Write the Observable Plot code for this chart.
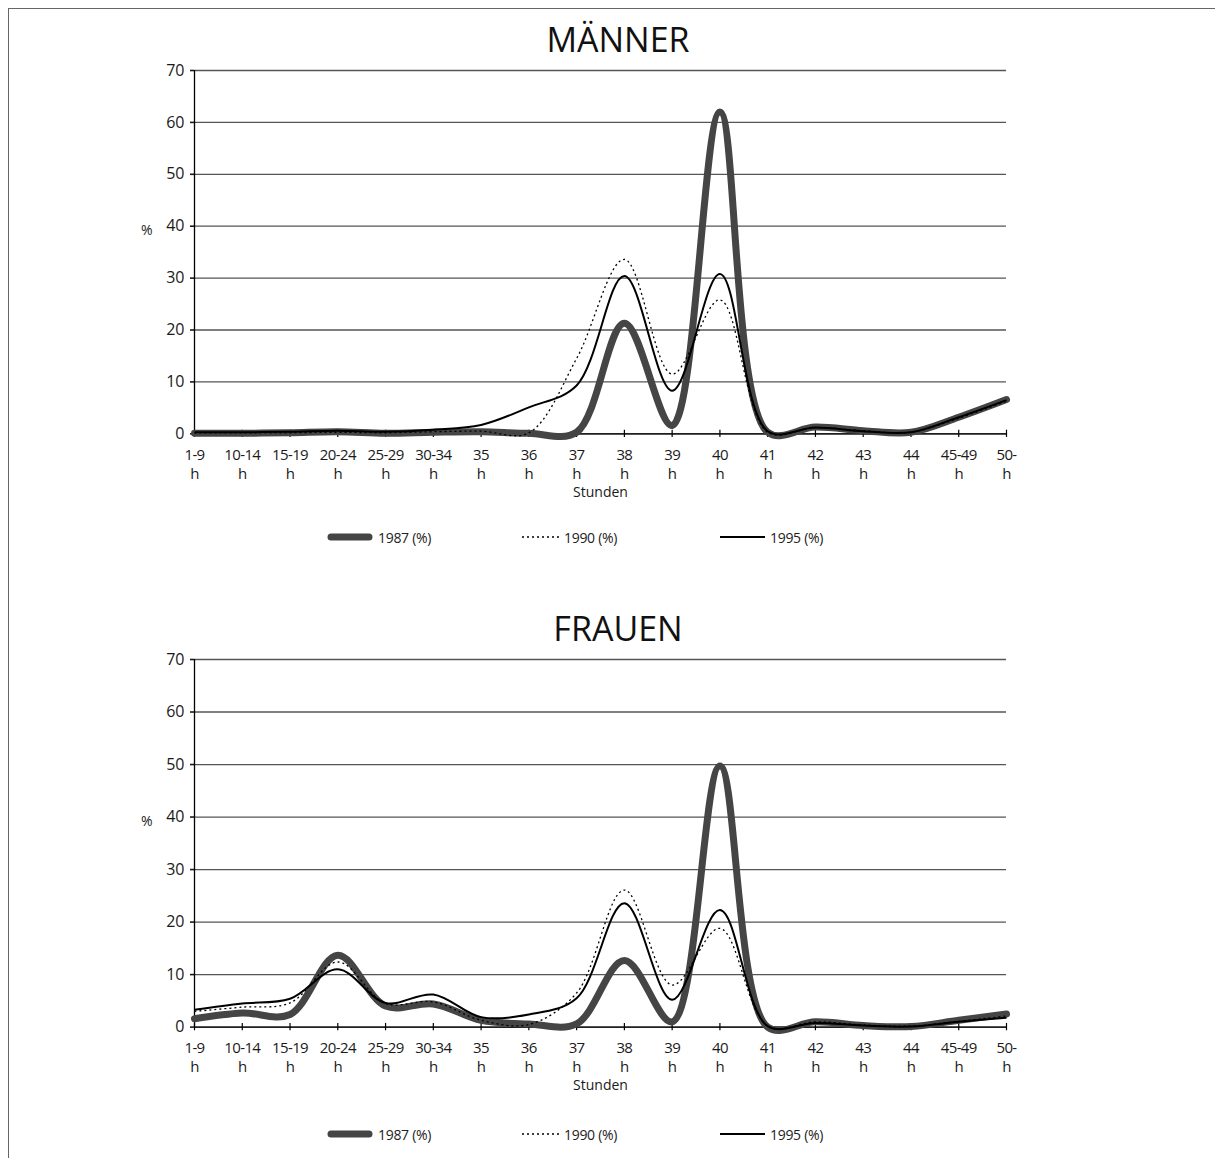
<!DOCTYPE html>
<html>
<head>
<meta charset="utf-8">
<script src="https://cdn.jsdelivr.net/npm/d3@7"></script>
<script src="https://cdn.jsdelivr.net/npm/@observablehq/plot@0.6"></script>
<style>
  html, body { margin: 0; padding: 0; background: #fff; }
  #page { position: relative; width: 1215px; height: 1158px; overflow: hidden; font-family: "Open Sans", sans-serif; color: #1a1a1a; }
  #frame { position: absolute; left: 8px; top: 8px; width: 1300px; height: 1300px; border-left: 1.5px solid #666; border-top: 1.5px solid #666; }
  .title { position: absolute; left: 8px; width: 1220px; text-align: center; font-size: 34px; line-height: 34px; color: #111; }
  .chart { position: absolute; left: 0; width: 1215px; }
  .chart svg { display: block; max-width: none !important; }
  .pct { position: absolute; font-size: 14px; line-height: 14px; color: #222; }
  .legend { position: absolute; left: 0; width: 1215px; height: 20px; }
  .legend .item { position: absolute; top: 0; height: 20px; display: flex; align-items: center; font-size: 14px; color: #222; letter-spacing: -0.3px; }
  .legend svg { display: block; margin-right: 5px; }
</style>
</head>
<body>
<div id="page">
  <div id="frame"></div>
  <div class="title" style="top:22px">MÄNNER</div>
  <div class="title" style="top:611px">FRAUEN</div>
  <div class="pct" style="left:141px; top:223px">%</div>
  <div class="pct" style="left:141px; top:814px">%</div>
  <div id="chart1" class="chart" style="top:60px"></div>
  <div id="chart2" class="chart" style="top:649px"></div>
  <div id="legend1" class="legend" style="top:527px"></div>
  <div id="legend2" class="legend" style="top:1124px"></div>
</div>
<script>
// Categories (Wochenarbeitsstunden)
const cats = ["1-9","10-14","15-19","20-24","25-29","30-34","35","36","37","38","39","40","41","42","43","44","45-49","50-"];
const yTicks = [0, 10, 20, 30, 40, 50, 60, 70];
const seriesNames = ["1987 (%)", "1990 (%)", "1995 (%)"];

// MÄNNER
const maenner1987 = [0.1, 0.1, 0.2, 0.4, 0.1, 0.3, 0.4, 0.1, 0.3, 21.3, 1.6, 62.0, 0.3, 1.3, 0.6, 0.3, 3.2, 6.6];
const maenner1990 = [0.2, 0.2, 0.2, 0.3, 0.2, 0.4, 0.5, 0.2, 14.5, 33.6, 11.5, 25.8, 0.3, 1.2, 0.6, 0.3, 3.0, 6.3];
const maenner1995 = [0.3, 0.3, 0.4, 0.6, 0.4, 0.8, 1.7, 5.1, 9.3, 30.4, 8.3, 30.8, 0.5, 1.2, 0.5, 0.3, 3.2, 6.5];

// FRAUEN
const frauen1987 = [1.6, 2.7, 2.4, 13.7, 4.0, 4.4, 1.3, 0.6, 0.6, 12.7, 1.0, 49.7, 0.0, 1.0, 0.3, 0.1, 1.3, 2.5];
const frauen1990 = [3.0, 3.8, 4.6, 12.4, 4.5, 4.8, 1.3, 0.5, 6.5, 26.1, 8.0, 18.8, 0.2, 1.0, 0.4, 0.2, 1.1, 2.1];
const frauen1995 = [3.3, 4.5, 5.4, 11.0, 4.6, 6.2, 1.9, 2.4, 5.5, 23.6, 5.2, 22.3, 0.2, 0.8, 0.3, 0.1, 1.0, 1.8];

const styles = [
  {stroke: "#454545", strokeWidth: 7, strokeDasharray: null},
  {stroke: "#000", strokeWidth: 1.3, strokeDasharray: "2,3"},
  {stroke: "#000", strokeWidth: 2, strokeDasharray: null}
];

const W = 1215, ML = 194, MR = 209;

function makeChart(values, height, marginBottom) {
  const rows = (vals, name) => cats.map((c, i) => ({cat: c, value: vals[i], series: name}));
  const lines = values.map((vals, k) => Plot.line(rows(vals, seriesNames[k]), {
    x: "cat", y: "value", curve: "catmull-rom",
    stroke: styles[k].stroke, strokeWidth: styles[k].strokeWidth,
    strokeDasharray: styles[k].strokeDasharray,
    strokeLinecap: k === 0 ? "round" : "butt", strokeLinejoin: "round"
  }));
  const chart = Plot.plot({
    width: W, height, marginLeft: ML, marginRight: MR, marginTop: 10, marginBottom,
    style: {fontFamily: "'Open Sans', sans-serif", color: "#1a1a1a", background: "transparent", overflow: "visible"},
    x: {type: "point", domain: cats, range: [ML, W - MR], padding: 0, round: false},
    y: {domain: [0, 70]},
    marks: [
      Plot.gridY(yTicks, {stroke: "#555", strokeOpacity: 1, strokeWidth: 1.3}),
      Plot.axisY(yTicks, {tickSize: 4, tickPadding: 6, fontSize: 16, label: null, strokeWidth: 1.6}),
      Plot.ruleX([cats[0]], {stroke: "#000", strokeWidth: 1.3}),
      Plot.ruleY([0], {stroke: "#000", strokeWidth: 1.3}),
      Plot.ruleX(cats, {x: d => d, y1: -0.7, y2: 0.7, stroke: "#000", strokeWidth: 1.2}),
      Plot.axisX({tickSize: 0, tickPadding: 13, tickFormat: d => d + "\nh", lineHeight: 1.25, fontSize: 15, label: null}),
      Plot.text(["Stunden"], {frameAnchor: "bottom", dy: 53, lineAnchor: "top", fontSize: 14, fill: "#1a1a1a"}),
      ...lines
    ]
  });
  chart.querySelectorAll('g[aria-label="x-axis tick label"] text').forEach(t => t.style.letterSpacing = "-0.6px");
  return chart;
}

document.getElementById("chart1").appendChild(makeChart([maenner1987, maenner1990, maenner1995], 440, 66.7));
document.getElementById("chart2").appendChild(makeChart([frauen1987, frauen1990, frauen1995], 440, 62.4));

const legendX = [{sx: 327, tx: 378}, {sx: 522, tx: 564}, {sx: 720, tx: 770}];
function makeLegend(el) {
  seriesNames.forEach((name, k) => {
    const item = document.createElement("div");
    item.className = "item";
    item.style.left = legendX[k].sx + "px";
    const w = legendX[k].tx - legendX[k].sx - 5;
    const ns = "http://www.w3.org/2000/svg";
    const svg = document.createElementNS(ns, "svg");
    svg.setAttribute("width", w);
    svg.setAttribute("height", 12);
    const ln = document.createElementNS(ns, "line");
    const pad = k === 0 ? 4 : 0;
    ln.setAttribute("x1", pad); ln.setAttribute("x2", w - pad);
    ln.setAttribute("y1", 6); ln.setAttribute("y2", 6);
    ln.setAttribute("stroke", styles[k].stroke);
    ln.setAttribute("stroke-width", styles[k].strokeWidth);
    if (styles[k].strokeDasharray) ln.setAttribute("stroke-dasharray", styles[k].strokeDasharray);
    if (k === 0) ln.setAttribute("stroke-linecap", "round");
    svg.appendChild(ln);
    item.appendChild(svg);
    const span = document.createElement("span");
    span.textContent = name;
    item.appendChild(span);
    el.appendChild(item);
  });
}
makeLegend(document.getElementById("legend1"));
makeLegend(document.getElementById("legend2"));
</script>
</body>
</html>
